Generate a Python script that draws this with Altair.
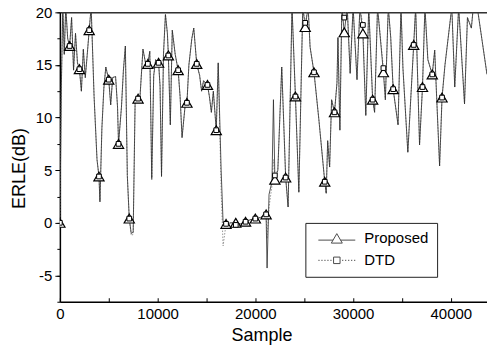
import altair as alt
import pandas as pd

# ---- data ----
prop_x = [0, 150, 300, 450, 600, 800, 1000, 1200, 1400, 1600, 1800, 2000, 2200, 2400, 2600, 2800,
          3000, 3200, 3500, 3800, 4000, 4100, 4300, 4500, 4700, 5000, 5200, 5400, 5700, 5900,
          6000, 6300, 6500, 6700, 6900, 7100, 7300, 7500, 7700, 8000, 8200, 8500, 8800, 9000,
          9200, 9400, 9600, 9800, 10100, 10250, 10400, 10600, 10800, 11000, 11100, 11300, 11500,
          11800, 12100, 12300, 12500, 12800, 13000, 13200, 13500, 13700, 14000, 14300, 14500,
          14700, 15100, 15300, 15500, 15700, 16000, 16200, 16500, 16700, 17000, 17500, 18000,
          18500, 19000, 19500, 20000, 20500, 21100, 21200, 21400, 21700, 21850, 22000, 22300,
          22700, 23100, 23350, 23750, 24100, 24450, 24850, 25100, 25400, 25600, 26000, 26500,
          27100, 27250, 27400, 27600, 27800, 28100, 28350, 28450, 28650, 28850, 29100, 29400,
          29700, 30000, 30400, 30700, 31000, 31300, 31600, 32000, 32200, 32500, 33100, 33300,
          33600, 33850, 34100, 34600, 34900, 35100, 35600, 36200, 36400, 36800, 37100, 37350,
          37650, 38100, 38350, 38550, 38850, 39100, 39400, 40100, 40400, 40800, 41400, 41700,
          42100, 42300, 42700, 43200, 43700]
prop_y = [0, 13, 20.5, 16, 20.5, 17.5, 16.8, 19.5, 14.5, 18, 15.2, 14.6, 12.5, 16.5, 13.8, 16,
          18.3, 20.5, 12, 6, 4.4, 2, 9, 12.8, 14.8, 13.6, 11.2, 13.8, 13.9, 11,
          7.5, 11, 14.5, 16.8, 4.5, 0.4, -1, -0.9, 11.6, 11.8, 12, 16.5, 15, 15.1,
          16.3, 4.2, 14, 15.5, 15.2, 13, 4.4, 16, 19.8, 18, 15.9, 9.3, 18.3,
          16, 14.5, 12, 8.1, 11, 11.4, 15, 17.5, 18.5, 15.1, 14, 12.5,
          13.5, 13.1, 12, 10.5, 12.5, 8.8, 15.2, 5, 0, -0.1, 0, 0,
          -0.1, 0.1, 0.3, 0.4, 0.5, 0.8, -4.3, 2.7, 3.9, 11.7, 4.1, 5,
          14.8, 4.3, 1.5, 20.5, 12, 2.9, 20.5, 18.6, 20.5, 16.7, 14.3, 9.8,
          3.9, 2.8, 7.8, 5.3, 11.7, 10.5, 13.3, 17.6, 8.8, 20.5, 18.1, 20.5,
          14.2, 20.5, 13.6, 20.5, 18, 10.2, 20.5, 11.7, 10.5, 20.5, 14.3, 11.7,
          20.5, 17.6, 12.7, 9.3, 20.5, 14.7, 6.7, 16.9, 20.5, 7.4, 12.9, 20.5,
          15.5, 14.1, 16.4, 11.9, 5.4, 11.9, 15, 20.5, 12.9, 20.5, 11.3, 19.5,
          18.5, 20.5, 20.5, 17.3, 14.1]
dtd_y = [0, 13, 20.5, 16, 20.5, 17.5, 16.8, 19.5, 14.5, 18, 15.2, 14.6, 12.5, 16.5, 13.8, 16,
         18.3, 20.5, 12, 6, 4.4, 2, 9, 12.8, 14.8, 13.6, 11.2, 13.8, 13.9, 11,
         7.5, 11, 14.5, 16.8, 4.5, 0.4, -1.2, -1.1, 11.6, 11.8, 12, 16.5, 15, 15.1,
         16.3, 4.0, 14, 15.5, 15.2, 13, 4.4, 16, 19.8, 18, 15.9, 9.3, 18.3,
         16, 14.5, 12, 8.1, 11, 11.4, 15, 17.5, 18.5, 15.1, 14, 12.5,
         13.5, 13.1, 12, 10.5, 12.5, 8.8, 15.2, 3, -2.2, -0.1, 0, -0.2,
         -0.1, 0.1, 0.3, 0.4, 0.5, 0.8, -1.5, 1.5, 3.5, 6, 4.5, 5,
         14.8, 4.3, 1.5, 20.5, 12, 2.9, 20.5, 19.0, 20.5, 16.7, 14.3, 9.8,
         3.9, 2.8, 7.8, 5.3, 11.7, 10.5, 13.3, 17.6, 8.8, 20.5, 19.5, 20.5,
         14.2, 20.5, 13.6, 20.5, 18.8, 10.2, 20.5, 11.7, 10.5, 20.5, 14.7, 11.7,
         20.5, 17.6, 12.7, 9.3, 20.5, 14.7, 6.7, 16.9, 20.5, 7.4, 12.9, 20.5,
         15.5, 14.1, 16.4, 11.9, 5.4, 11.9, 15, 20.5, 12.9, 20.5, 11.3, 19.5,
         18.5, 20.5, 20.5, 17.3, 14.1]

mark_x = [0, 1000, 2000, 3000, 4000, 5000, 6000, 7100, 8000, 9000, 10100, 11100, 12100, 13000,
          14000, 15100, 16000, 17000, 18000, 19000, 20000, 21100, 22000, 23100, 24100, 25100,
          26000, 27100, 28100, 29100, 31000, 32000, 33100, 34100, 36200, 37100, 38100, 39100]
prop_mark_y = [0, 16.8, 14.6, 18.3, 4.4, 13.6, 7.5, 0.4, 11.8, 15.1, 15.2, 15.9, 14.5, 11.4,
               15.1, 13.1, 8.8, -0.1, 0, 0.1, 0.4, 0.8, 4.1, 4.3, 12, 18.6,
               14.3, 3.9, 10.5, 18.1, 18, 11.7, 14.3, 12.7, 16.9, 12.9, 14.1, 11.9]
dtd_mark_y = [0, 16.8, 14.6, 18.3, 4.4, 13.6, 7.5, 0.4, 11.8, 15.1, 15.2, 15.9, 14.5, 11.4,
              15.1, 13.1, 8.8, -0.1, -0.2, 0.1, 0.4, 0.8, 4.5, 4.3, 12, 19.0,
              14.3, 3.9, 10.5, 19.5, 18.8, 11.7, 14.7, 12.7, 16.9, 12.9, 14.1, 11.9]

series_names = ["Proposed", "DTD"]
x_label_ticks = [0, 10000, 20000, 30000, 40000]
x_all_ticks = [0, 5000, 10000, 15000, 20000, 25000, 30000, 35000, 40000]
y_major_ticks = [-5, 0, 5, 10, 15, 20]
y_all_ticks = [-7.5, -5, -2.5, 0, 2.5, 5, 7.5, 10, 12.5, 15, 17.5, 20]

X_DOMAIN = [0, 43700]
Y_DOMAIN = [-7.5, 20]
FONT = "Liberation Sans"

# ---- legend symbols (styling only) ----
path_prop = "M-3.7,0.35H-0.75M0.75,0.35H3.7M-1.1,0.95L0,-0.95L1.1,0.95Z"
dots = ""
for k in range(5):
    a = -3.7 + 0.6 * k
    dots += "M%.2f,0H%.2f" % (a, a + 0.25)
    dots += "M%.2f,0H%.2f" % (-a - 0.25, -a)
path_dtd = dots + "M-0.65,-0.65H0.65V0.65H-0.65Z"

line_df = pd.DataFrame({"s": prop_x, "v": prop_y})
dtd_df = pd.DataFrame({"s": prop_x, "v": dtd_y})
pm_df = pd.DataFrame({"s": mark_x, "v": prop_mark_y})
dm_df = pd.DataFrame({"s": mark_x, "v": dtd_mark_y})
leg_df = pd.DataFrame({"series": series_names, "s": [None, None], "v": [None, None]})

xs = alt.Scale(domain=X_DOMAIN, nice=False, zero=False)
ys = alt.Scale(domain=Y_DOMAIN, nice=False, zero=False)

# layer 1: DTD dotted line, carries the main y axis and the top border
dtd_line = alt.Chart(dtd_df).mark_line(color="#8c8c8c", strokeWidth=0.9, strokeDash=[1.5, 1.5], clip=True).encode(
    x=alt.X("s:Q", scale=xs, axis=alt.Axis(
        orient="top", domain=True, domainColor="#333333", domainWidth=1.5,
        ticks=False, labels=False, grid=False, title=None)),
    y=alt.Y("v:Q", scale=ys, axis=alt.Axis(
        orient="left", values=y_major_ticks, labelExpr="toString(datum.value)",
        labelFlush=False, labelFontSize=15, labelPadding=3, labelColor="black",
        tickColor="black", tickWidth=1, tickSize=5, grid=False,
        domainColor="black", domainWidth=1.5,
        title="ERLE(dB)", titleFontSize=18, titleFontWeight="normal", titleColor="black",
        titleAngle=270, titleX=-35, titleY=156, titleBaseline="alphabetic")),
)

# layer 2: Proposed line, carries the labelled x axis
prop_line = alt.Chart(line_df).mark_line(color="#2b2b2b", strokeWidth=0.8, clip=True).encode(
    x=alt.X("s:Q", scale=xs, axis=alt.Axis(
        orient="bottom", values=x_label_ticks, ticks=False, grid=False,
        labelExpr="toString(datum.value)", labelFlush=False, labelFontSize=15, labelPadding=5,
        labelColor="black", domainColor="black", domainWidth=1.5,
        title="Sample", titleFontSize=18, titleFontWeight="normal", titleColor="black",
        titleX=202, titleY=39, titleBaseline="alphabetic")),
    y=alt.Y("v:Q", scale=ys, axis=None),
)

# layer 3: triangles, carries inward x ticks and minor y ticks
tri = alt.Chart(pm_df).mark_point(shape="triangle-up", filled=True, fill="white", stroke="black",
                                   strokeWidth=1.2, size=105, opacity=1, clip=True).encode(
    x=alt.X("s:Q", scale=xs, axis=alt.Axis(
        orient="bottom", values=x_all_ticks, offset=-4, tickSize=4, ticks=True, tickColor="black",
        tickWidth=1, domain=False, labels=False, grid=False, title=None)),
    y=alt.Y("v:Q", scale=ys, axis=alt.Axis(
        orient="left", values=y_all_ticks, tickSize=3, ticks=True, tickColor="black",
        tickWidth=1, domain=False, labels=False, grid=False, title=None)),
)

sq = alt.Chart(dm_df).mark_point(shape="square", filled=True, fill="white", stroke="black",
                                  strokeWidth=1, size=22, opacity=1, clip=True).encode(
    x=alt.X("s:Q", scale=xs, axis=None),
    y=alt.Y("v:Q", scale=ys, axis=None),
)

leg = alt.Chart(leg_df).mark_point(filled=False, color="black", strokeWidth=1, size=100, clip=True).encode(
    x=alt.X("s:Q", scale=xs, axis=None),
    y=alt.Y("v:Q", scale=ys, axis=None),
    shape=alt.Shape("series:N", scale=alt.Scale(domain=series_names, range=[path_prop, path_dtd]),
                    legend=alt.Legend(title=None, orient="none", legendX=246, legendY=211,
                                      strokeColor="#222222", fillColor="white", padding=8,
                                      labelFont=FONT, labelFontSize=15, labelColor="black",
                                      symbolSize=100, symbolOffset=16, labelOffset=20,
                                      symbolStrokeColor="black", symbolStrokeWidth=1,
                                      rowPadding=6)),
)

chart = alt.layer(dtd_line, prop_line, tri, sq, leg).resolve_axis(
    x="independent", y="independent"
).properties(
    width=428, height=290,
    autosize=alt.AutoSizeParams(type="none"),
    padding={"left": 60, "top": 12, "right": 0, "bottom": 45},
).configure_view(stroke=None).configure_axis(
    labelFont=FONT, titleFont=FONT
).configure(background="white")

chart.save("out.html", embed_options={"renderer": "svg", "actions": False})
